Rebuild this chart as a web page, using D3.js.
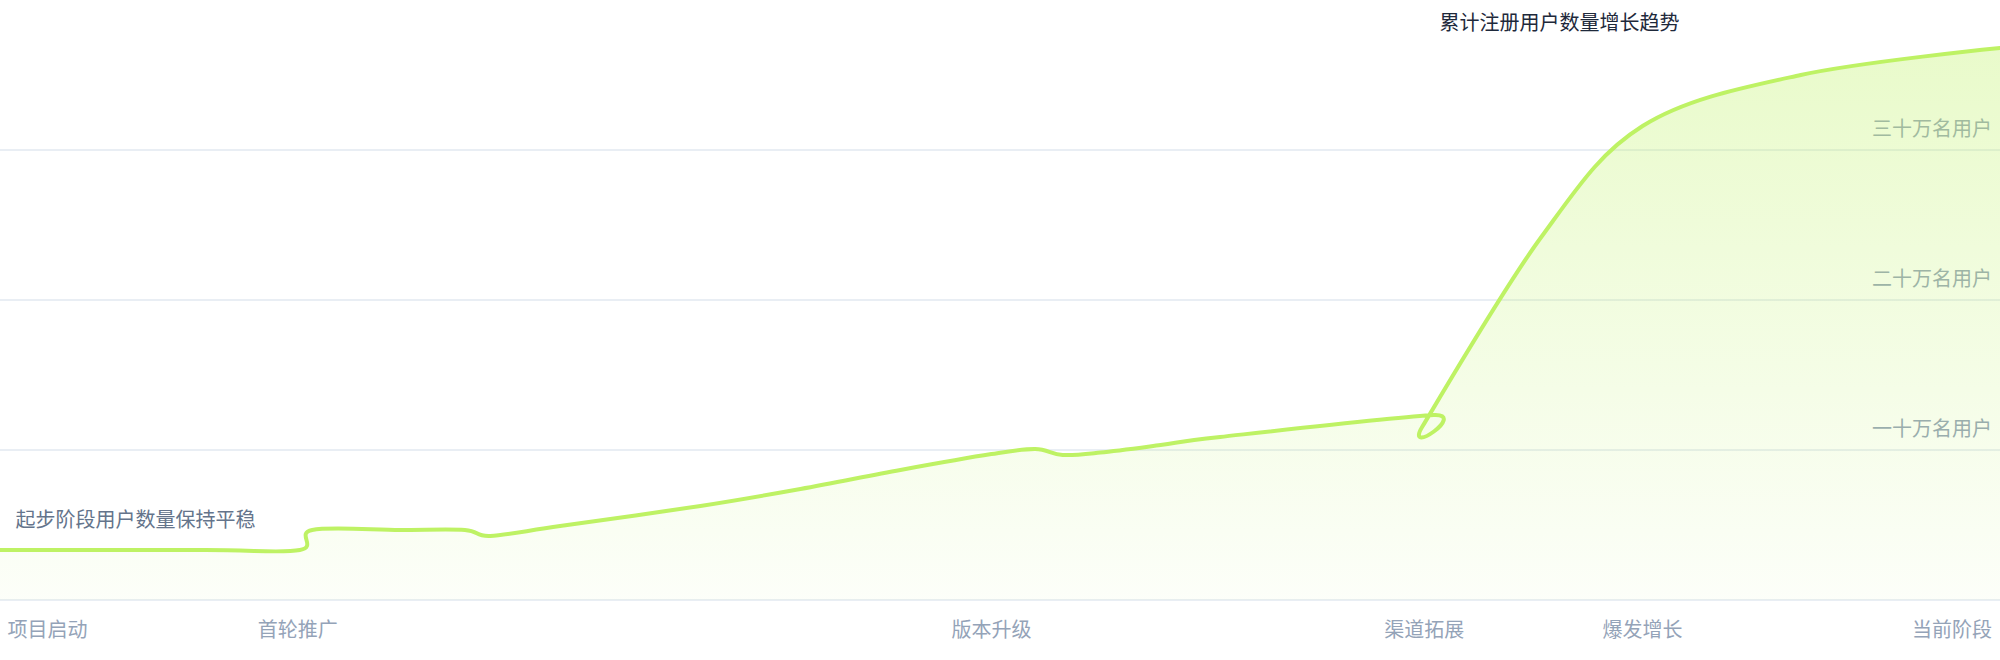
<!DOCTYPE html>
<html lang="zh-CN">
<head>
    <meta charset="UTF-8">
    <title>累计注册用户数量增长趋势</title>
    <script src="https://d3js.org/d3.v7.min.js"></script>
    <style>
        body {
            margin: 0;
            background: #ffffff;
            font-family: "Noto Sans CJK SC", "Noto Sans", sans-serif;
        }
        text {
            font-size: 20px;
        }
    </style>
</head>
<body>
    <div id="chart"></div>
    <script>
        const dates = [
            "2017-01-01", "2017-10-28", "2018-03-15", "2018-04-02", "2018-08-08",
            "2018-11-11", "2018-12-18", "2019-03-30", "2019-10-21", "2020-03-15",
            "2020-08-08", "2020-12-19", "2021-02-21", "2021-04-02", "2021-05-27",
            "2021-08-23", "2021-11-18", "2022-09-26", "2022-09-09", "2023-03-01",
            "2023-07-28", "2024-03-15", "2024-12-31"
        ];
        const values = [
            33300, 33300, 33300, 46700, 46700,
            46700, 42700, 49300, 62700, 74000,
            86700, 97300, 100700, 96700, 98300,
            103300, 108700, 123300, 115300, 241300,
            316000, 350000, 368000
        ];

        const yTicks = [100000, 200000, 300000];
        const yTickLabels = ["一十万名用户", "二十万名用户", "三十万名用户"];
        const xTickDates = ["2017-01-01", "2018-03-12", "2020-12-19", "2022-09-12", "2023-07-28", "2024-12-31"];
        const xTickLabels = ["项目启动", "首轮推广", "版本升级", "渠道拓展", "爆发增长", "当前阶段"];

        const title = "累计注册用户数量增长趋势";
        const seriesName = "起步阶段用户数量保持平稳";

        const width = 2000;
        const height = 660;
        const plotBottom = 600;

        const parse = d3.timeParse("%Y-%m-%d");
        const data = dates.map((d, i) => ({ date: parse(d), value: values[i] }));

        const svg = d3.select("#chart")
            .append("svg")
            .attr("width", width)
            .attr("height", height)
            .style("display", "block");

        const x = d3.scaleTime()
            .domain(d3.extent(data, d => d.date))
            .range([0, width]);

        const y = d3.scaleLinear()
            .domain([0, 400000])
            .range([plotBottom, 0]);

        const lime = "#bef264";

        const defs = svg.append("defs");
        const grad = defs.append("linearGradient")
            .attr("id", "areaFill")
            .attr("gradientUnits", "userSpaceOnUse")
            .attr("x1", 0).attr("x2", 0)
            .attr("y1", y(d3.max(values)))
            .attr("y2", plotBottom);
        grad.append("stop").attr("offset", "0%").attr("stop-color", lime).attr("stop-opacity", 0.34);
        grad.append("stop").attr("offset", "100%").attr("stop-color", lime).attr("stop-opacity", 0.04);

        // grid lines and baseline
        svg.append("g")
            .selectAll("line")
            .data([0].concat(yTicks))
            .enter()
            .append("line")
            .attr("x1", 0)
            .attr("x2", width)
            .attr("y1", d => y(d))
            .attr("y2", d => y(d))
            .attr("stroke", "#e2e8f0")
            .attr("stroke-width", 1.5);

        // y labels, drawn before the area so the fill tints them
        svg.append("g")
            .selectAll("text")
            .data(yTicks)
            .enter()
            .append("text")
            .attr("x", width - 8)
            .attr("y", d => y(d) - 14)
            .attr("text-anchor", "end")
            .attr("fill", "#94a3b8")
            .text((d, i) => yTickLabels[i]);

        const curve = d3.curveCardinal;

        const area = d3.area()
            .x(d => x(d.date))
            .y0(plotBottom)
            .y1(d => y(d.value))
            .curve(curve);

        const line = d3.line()
            .x(d => x(d.date))
            .y(d => y(d.value))
            .curve(curve);

        svg.append("path")
            .datum(data)
            .attr("d", area)
            .attr("fill", "url(#areaFill)");

        svg.append("path")
            .datum(data)
            .attr("d", line)
            .attr("fill", "none")
            .attr("stroke", lime)
            .attr("stroke-width", 4)
            .attr("stroke-linejoin", "round")
            .attr("stroke-linecap", "round");

        // x labels: first and last pinned to the edges
        const lastIdx = xTickDates.length - 1;
        svg.append("g")
            .selectAll("text")
            .data(xTickDates)
            .enter()
            .append("text")
            .attr("x", (d, i) => i === 0 ? 7.5 : i === lastIdx ? width - 8 : x(parse(d)))
            .attr("y", 637)
            .attr("text-anchor", (d, i) => i === 0 ? "start" : i === lastIdx ? "end" : "middle")
            .attr("fill", "#94a3b8")
            .text((d, i) => xTickLabels[i]);

        svg.append("text")
            .attr("x", 15.5)
            .attr("y", 527)
            .attr("fill", "#64748b")
            .text(seriesName);

        svg.append("text")
            .attr("x", 1439.5)
            .attr("y", 29.5)
            .attr("fill", "#1e293b")
            .text(title);
    </script>
</body>
</html>
